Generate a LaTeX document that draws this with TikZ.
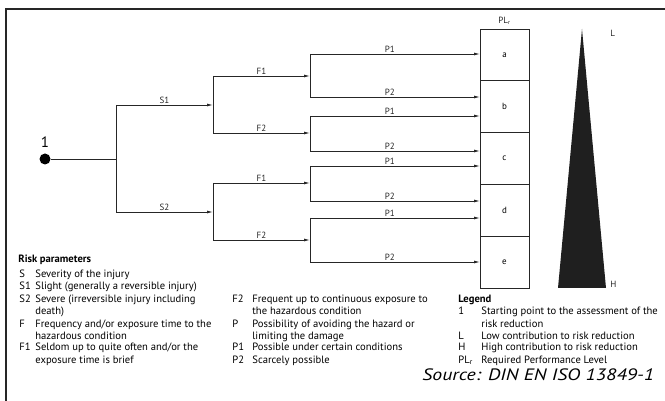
\documentclass[tikz,border=0pt]{standalone}
\usepackage{fontspec}
\setmainfont{PT Sans}
\usetikzlibrary{arrows.meta, positioning}
\tikzset{larrow/.style = {-{Latex[length=6pt,width=3pt]}}}
\tikzset{lbl/.style = {font=\fontsize{9}{10}\selectfont, text=black!85, inner sep=1pt}}
\tikzset{plab/.style = {lbl, above}}
\tikzset{plbox/.style = {draw, minimum width=49pt, minimum height=51.8pt, outer sep=0pt, inner sep=0pt, font=\fontsize{9}{10}\selectfont}}
\tikzset{txt/.style = {anchor=base west, inner sep=0pt, font=\fontsize{10.6}{12}\selectfont}}
\tikzset{dot/.style = {circle, fill, minimum size=11pt, inner sep=0pt}}

\begin{document}
\begin{tikzpicture}[x=1pt, y=-1pt, line width=0.8pt, draw=black!85]
    \useasboundingbox (0,0) rectangle (665,401);
    \draw[line width=1.2pt] (6,401) -- (6,9) -- (665,9);

    % starting point and S branch
    \node[dot] (start) at (45,159) {};
    \node[above=5pt of start, inner sep=0pt, font=\fontsize{15}{16}\selectfont] (one) {1};
    \coordinate (sj) at (116,159);
    \coordinate (s1) at (116,105);
    \coordinate (s2) at (116,212);
    \draw (start) -- (sj);
    \draw (s1) -- (s2);

    % F brackets
    \coordinate (f1-t) at (213,76);
    \coordinate (f1-b) at (213,133);
    \coordinate (f2-t) at (213,183);
    \coordinate (f2-b) at (213,240);
    \draw (f1-t) -- (f1-b);
    \draw (f2-t) -- (f2-b);
    \draw[larrow] (s1) to node[plab] {S1} (s1 -| f1-t);
    \draw[larrow] (s2) to node[plab] {S2} (s2 -| f2-t);

    % P brackets
    \coordinate (p1-t) at (310,54);
    \coordinate (p1-b) at (310,97);
    \coordinate (p2-t) at (310,116);
    \coordinate (p2-b) at (310,151);
    \coordinate (p3-t) at (310,166);
    \coordinate (p3-b) at (310,201);
    \coordinate (p4-t) at (310,218);
    \coordinate (p4-b) at (310,262);
    \draw[larrow] (f1-t) to node[plab] {F1} (f1-t -| p1-t);
    \draw[larrow] (f1-b) to node[plab] {F2} (f1-b -| p2-t);
    \draw[larrow] (f2-t) to node[plab] {F1} (f2-t -| p3-t);
    \draw[larrow] (f2-b) to node[plab] {F2} (f2-b -| p4-t);

    % PLr column
    \node[plbox] (a) at (504.5,54.9) {a};
    \node[plbox, below=0pt of a] (b) {b};
    \node[plbox, below=0pt of b] (c) {c};
    \node[plbox, below=0pt of c] (d) {d};
    \node[plbox, below=0pt of d] (e) {e};
    \node[lbl, above=3pt of a] (plr) {PL\textsubscript{r}};

    \foreach \n in {1,...,4} {
        \draw (p\n-t) -- (p\n-b);
        \draw[larrow] (p\n-t) to node[plab, pos=.47] {P1} (p\n-t -| a.west);
        \draw[larrow] (p\n-b) to node[plab, pos=.47] {P2} (p\n-b -| a.west);
    }

    % risk wedge
    \fill[black!88] (582,29) -- (606,288) -- (558,288) -- cycle;
    \node[lbl, anchor=west] (low) at (609,33) {L};
    \node[lbl, anchor=west] (high) at (609,284) {H};

    % risk parameters
    \node[txt, font=\fontsize{10.6}{12}\selectfont\bfseries] (rp) at (18,262) {Risk parameters};
    \foreach \y/\k/\t [count=\i] in {277/S/{Severity of the injury},
        290/S1/{Slight (generally a reversible injury)},
        303/S2/{Severe (irreversible injury including},
        315//{death)},
        327/F/{Frequency and/or exposure time to the},
        339//{hazardous condition},
        351/F1/{Seldom up to quite often and/or the},
        363//{exposure time is brief}} {
        \node[txt] (rk-\i) at (19,\y) {\k};
        \node[txt] (rt-\i) at (35,\y) {\t};
    }
    \foreach \y/\k/\t [count=\i] in {303/F2/{Frequent up to continuous exposure to},
        315//{the hazardous condition},
        327/P/{Possibility of avoiding the hazard or},
        339//{limiting the damage},
        351/P1/{Possible under certain conditions},
        363/P2/{Scarcely possible}} {
        \node[txt] (qk-\i) at (232,\y) {\k};
        \node[txt] (qt-\i) at (252,\y) {\t};
    }

    % legend
    \node[txt, font=\fontsize{10.6}{12}\selectfont\bfseries] (lg) at (458,303) {Legend};
    \foreach \y/\k/\t [count=\i] in {315/1/{Starting point to the assessment of the},
        327//{risk reduction},
        339/L/{Low contribution to risk reduction},
        351/H/{High contribution to risk reduction},
        363/{PL\textsubscript{r}}/{Required Performance Level}} {
        \node[txt] (lk-\i) at (458,\y) {\k};
        \node[txt] (lt-\i) at (481,\y) {\t};
    }
    \node[txt, font=\fontsize{16.5}{18}\selectfont\itshape\addfontfeature{FakeStretch=1.2}] (src) at (422,381) {Source: DIN EN ISO 13849-1};
\end{tikzpicture}
\end{document}
